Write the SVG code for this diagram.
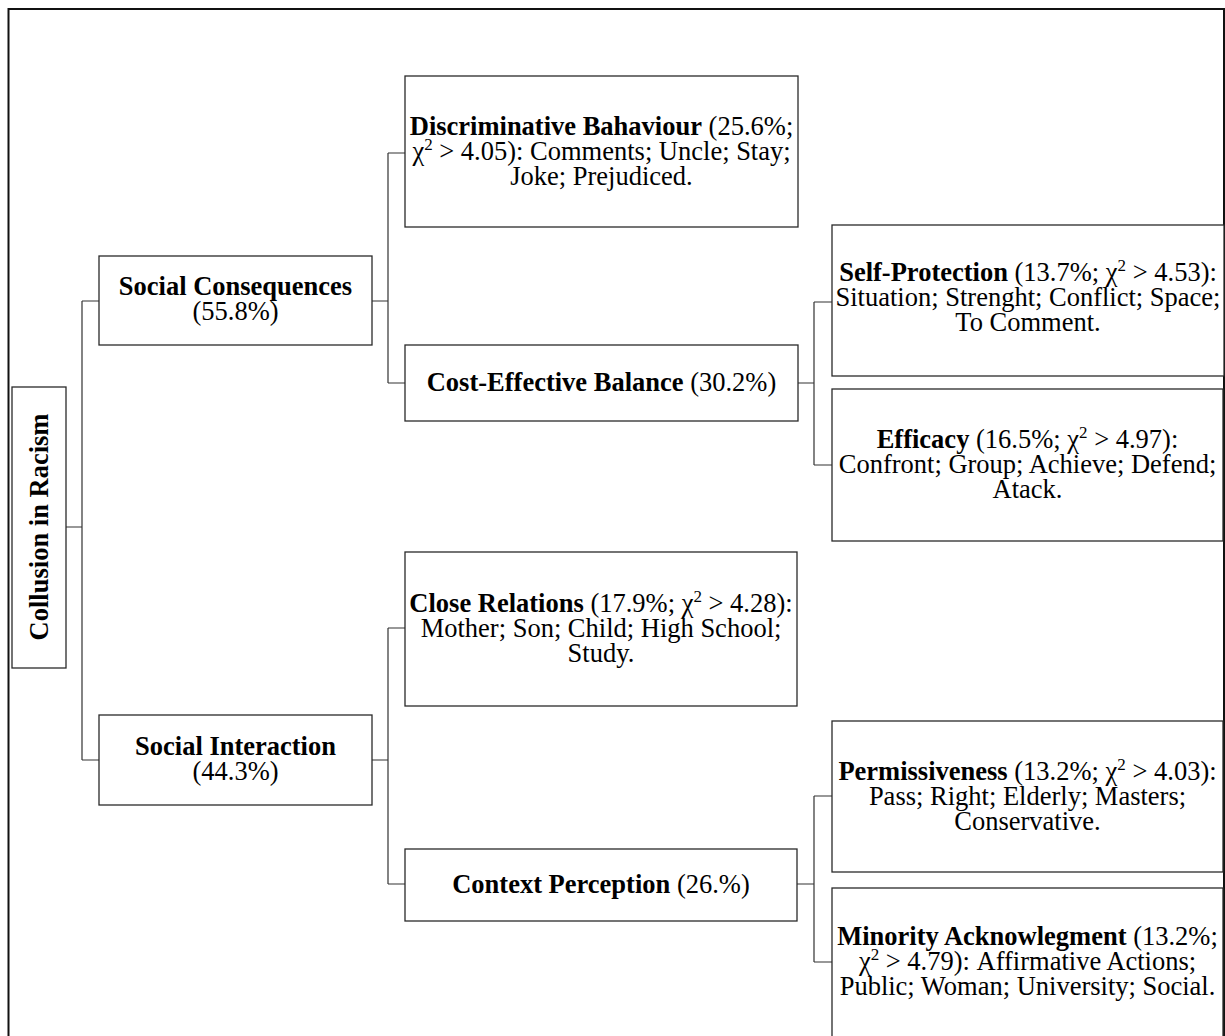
<svg xmlns="http://www.w3.org/2000/svg" width="1225" height="1036" viewBox="0 0 1225 1036">
  <style>
    .box { fill: #ffffff; stroke: #2a2a2a; stroke-width: 1.3; }
    .frame { fill: none; stroke: #111111; stroke-width: 2; }
    .wire { fill: none; stroke: #333333; stroke-width: 1.2; }
    text { font-family: "Liberation Serif", "Times New Roman", serif; font-size: 26.5px; fill: #000000; text-anchor: middle; }
    .b { font-weight: bold; }
    .sup { font-size: 17px; }
  </style>

  <rect width="1225" height="1036" fill="#ffffff"/>
  <!-- outer frame -->
  <rect class="frame" x="8.5" y="9" width="1215.5" height="1040"/>

  <!-- tree connectors -->
  <g id="connectors">
    <path class="wire" d="M66,527 H82 M82,301 V760 M82,301 H99 M82,760 H99"/>
    <path class="wire" d="M372,301 H388 M388,153 V383 M388,153 H405 M388,383 H405"/>
    <path class="wire" d="M372,760 H388 M388,628 V884 M388,628 H405 M388,884 H405"/>
    <path class="wire" d="M798,383 H814 M814,302 V465 M814,302 H832 M814,465 H832"/>
    <path class="wire" d="M797,884 H814 M814,796 V962 M814,796 H832 M814,962 H832"/>
  </g>

  <!-- root -->
  <g id="collusion-in-racism">
    <rect class="box" x="12" y="387" width="54" height="281"/>
    <text class="b" transform="translate(48,527) rotate(-90)" x="0" y="0">Collusion in Racism</text>
  </g>

  <!-- level 1 -->
  <g id="social-consequences">
    <rect class="box" x="99" y="256" width="273" height="89"/>
    <text x="235.5" y="295"><tspan class="b">Social Consequences</tspan></text>
    <text x="235.5" y="320">(55.8%)</text>
  </g>
  <g id="social-interaction">
    <rect class="box" x="99" y="715" width="273" height="90"/>
    <text x="235.5" y="755"><tspan class="b">Social Interaction</tspan></text>
    <text x="235.5" y="780">(44.3%)</text>
  </g>

  <!-- level 2 -->
  <g id="discriminative-behaviour">
    <rect class="box" x="405" y="76" width="393" height="151"/>
    <text x="601.5" y="135"><tspan class="b">Discriminative Bahaviour</tspan> (25.6%;</text>
    <text x="601.5" y="160">χ<tspan class="sup" dy="-10">2</tspan><tspan dy="10"> &gt; 4.05): Comments; Uncle; Stay;</tspan></text>
    <text x="601.5" y="185">Joke; Prejudiced.</text>
  </g>
  <g id="cost-effective-balance">
    <rect class="box" x="405" y="345" width="393" height="76"/>
    <text x="601.5" y="391"><tspan class="b">Cost-Effective Balance</tspan> (30.2%)</text>
  </g>
  <g id="close-relations">
    <rect class="box" x="405" y="552" width="392" height="154"/>
    <text x="601" y="612"><tspan class="b">Close Relations</tspan> (17.9%; χ<tspan class="sup" dy="-10">2</tspan><tspan dy="10"> &gt; 4.28):</tspan></text>
    <text x="601" y="637">Mother; Son; Child; High School;</text>
    <text x="601" y="662">Study.</text>
  </g>
  <g id="context-perception">
    <rect class="box" x="405" y="849" width="392" height="72"/>
    <text x="601" y="893"><tspan class="b">Context Perception</tspan> (26.%)</text>
  </g>

  <!-- level 3 -->
  <g id="self-protection">
    <rect class="box" x="832" y="225" width="392" height="151"/>
    <text x="1028" y="281"><tspan class="b">Self-Protection</tspan> (13.7%; χ<tspan class="sup" dy="-10">2</tspan><tspan dy="10"> &gt; 4.53):</tspan></text>
    <text x="1028" y="306">Situation; Strenght; Conflict; Space;</text>
    <text x="1028" y="331">To Comment.</text>
  </g>
  <g id="efficacy">
    <rect class="box" x="832" y="389" width="391" height="152"/>
    <text x="1027.5" y="448"><tspan class="b">Efficacy</tspan> (16.5%; χ<tspan class="sup" dy="-10">2</tspan><tspan dy="10"> &gt; 4.97):</tspan></text>
    <text x="1027.5" y="473">Confront; Group; Achieve; Defend;</text>
    <text x="1027.5" y="498">Atack.</text>
  </g>
  <g id="permissiveness">
    <rect class="box" x="832" y="721" width="391" height="151"/>
    <text x="1027.5" y="780"><tspan class="b">Permissiveness</tspan> (13.2%; χ<tspan class="sup" dy="-10">2</tspan><tspan dy="10"> &gt; 4.03):</tspan></text>
    <text x="1027.5" y="805">Pass; Right; Elderly; Masters;</text>
    <text x="1027.5" y="830">Conservative.</text>
  </g>
  <g id="minority-acknowledgment">
    <rect class="box" x="832" y="888" width="391" height="160"/>
    <text x="1027.5" y="945"><tspan class="b">Minority Acknowlegment</tspan> (13.2%;</text>
    <text x="1027.5" y="970">χ<tspan class="sup" dy="-10">2</tspan><tspan dy="10"> &gt; 4.79): Affirmative Actions;</tspan></text>
    <text x="1027.5" y="995">Public; Woman; University; Social.</text>
  </g>
</svg>
